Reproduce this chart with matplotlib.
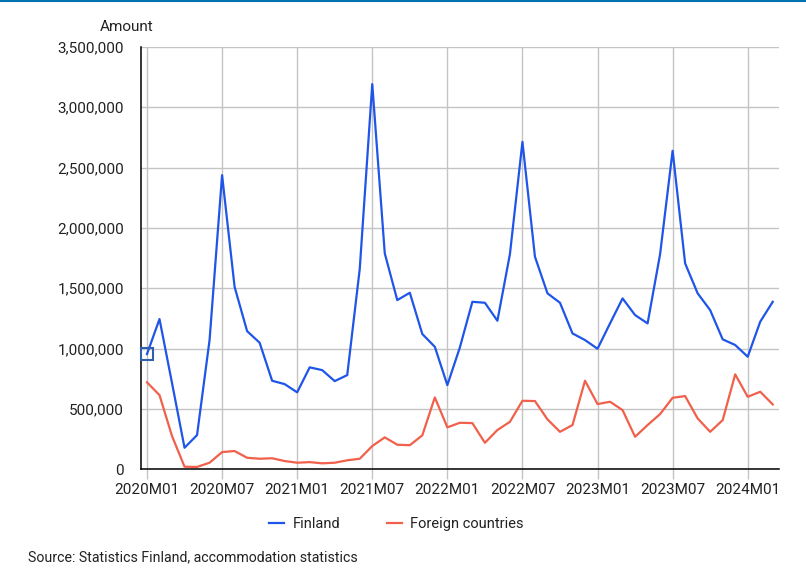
import numpy as np
import matplotlib
matplotlib.use("Agg")
import matplotlib.pyplot as plt
from matplotlib.ticker import FuncFormatter, MultipleLocator

plt.rcParams['font.family'] = ['Liberation Sans Narrow', 'Roboto', 'DejaVu Sans']

# monthly data, 2020M01 .. 2024M03
months = [f"{y}M{m:02d}" for y in range(2020, 2025) for m in range(1, 13)][:51]

finland = [
    955000, 1245000, 715000, 179000, 284000, 1071000, 2437000, 1512000, 1145000, 1049000,
    734000, 706000, 638000, 845000, 822000, 731000, 781000, 1660000, 3191000, 1789000,
    1402000, 1463000, 1121000, 1015000, 698000, 1010000, 1388000, 1380000, 1231000, 1783000,
    2713000, 1761000, 1458000, 1380000, 1126000, 1071000, 999000, 1209000, 1416000, 1278000,
    1209000, 1783000, 2639000, 1706000, 1458000, 1319000, 1077000, 1030000, 933000, 1223000,
    1388000,
]
foreign = [
    721000, 615000, 276000, 22000, 20000, 55000, 143000, 152000, 96000, 88000,
    92000, 69000, 55000, 60000, 50000, 55000, 75000, 88000, 193000, 265000,
    204000, 200000, 282000, 596000, 348000, 386000, 383000, 220000, 326000, 394000,
    568000, 566000, 414000, 311000, 367000, 734000, 541000, 560000, 491000, 270000,
    367000, 458000, 593000, 607000, 422000, 311000, 408000, 787000, 601000, 643000,
    538000,
]

blue = '#1f55e8'
red = '#f0604a'
text_col = '#222222'

fig = plt.figure(figsize=(8.06, 5.71), dpi=100)
ax = fig.add_axes([0.1746, 0.178, 0.7919, 0.740])

x = np.arange(len(months))
ax.plot(x, finland, color=blue, lw=1.6, label='Finland', zorder=3)
ax.plot(x, foreign, color=red, lw=1.6, label='Foreign countries', zorder=3)
# highlighted first point
ax.plot(x[0], finland[0], marker='s', ms=9, mfc='none', mec='#2f5fae', mew=1.5,
        zorder=6, clip_on=False)

ax.set_xlim(-0.5, len(months) - 0.5)
ax.set_ylim(0, 3500000)
ax.yaxis.set_major_locator(MultipleLocator(500000))
ax.yaxis.set_major_formatter(FuncFormatter(lambda v, p: f"{int(v):,}"))

tick_pos = x[::6]
ax.set_xticks(tick_pos)
ax.set_xticklabels([months[i] for i in tick_pos])

ax.grid(True, color='#c4c4c4', lw=1)
ax.set_axisbelow(True)
for s in ['top', 'right']:
    ax.spines[s].set_visible(False)
for s in ['left', 'bottom']:
    ax.spines[s].set_color('black')
    ax.spines[s].set_linewidth(1.1)
    ax.spines[s].set_zorder(5)

ax.tick_params(axis='y', length=0, pad=12, labelsize=11, labelcolor=text_col)
ax.tick_params(axis='x', length=7, width=1, color='#c4c4c4', pad=3, labelsize=11, labelcolor=text_col)

fig.text(0.124, 0.953, 'Amount', fontsize=11, color=text_col, va='center')

fig.legend(loc='center', bbox_to_anchor=(0.492, 0.082), ncol=2, frameon=False,
           fontsize=10.5, handlelength=1.0, columnspacing=3.2, handletextpad=0.6,
           labelcolor=text_col)

fig.text(0.035, 0.0245, 'Source: Statistics Finland, accommodation statistics',
         fontsize=10.2, color=text_col, va='center')

# thin blue line along the top edge
fig.add_artist(plt.Line2D([0, 1], [0.998, 0.998], color='#0073b0', lw=1.5,
                          transform=fig.transFigure))

fig.savefig('out.png', dpi=100)
